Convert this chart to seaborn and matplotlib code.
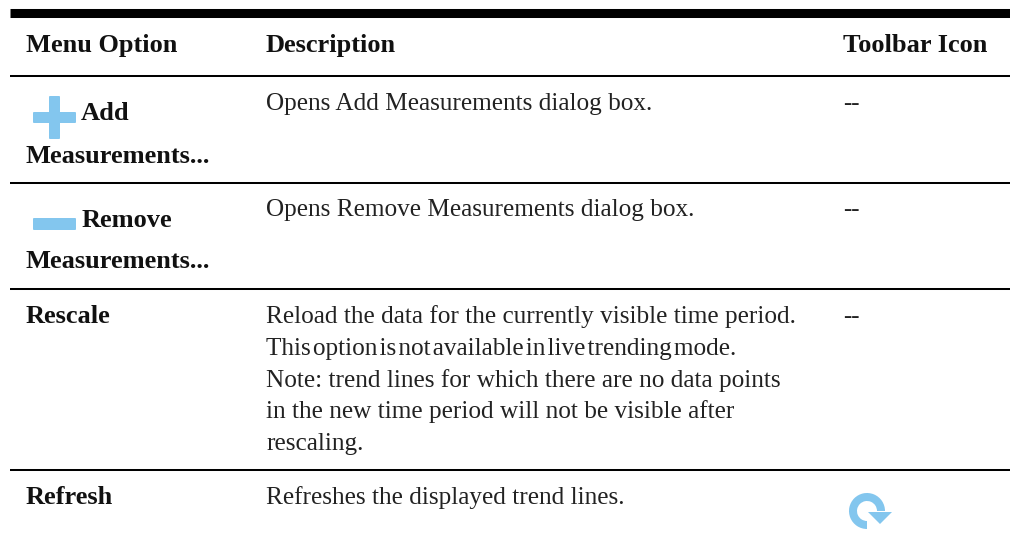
import matplotlib
matplotlib.use("Agg")
import matplotlib.pyplot as plt
from matplotlib.patches import FancyBboxPatch, Polygon, Wedge
import seaborn as sns

sns.set_theme(style="white")
plt.rcParams["font.family"] = ["Liberation Serif", "DejaVu Serif"]

HEADERS = ["Menu Option", "Description", "Toolbar Icon"]
HEADER_X = [26, 266, 843]
MENU_ITEMS = [("Add", 81, 120), ("Measurements...", 26, 163),
              ("Remove", 82, 227), ("Measurements...", 26, 268),
              ("Rescale", 26, 323), ("Refresh", 26, 504)]
DESCRIPTIONS = [("Opens Add Measurements dialog box.", 110),
                ("Opens Remove Measurements dialog box.", 216),
                ("Reload the data for the currently visible time period.", 323),
                ("This\u200aoption\u200ais\u200anot\u200aavailable\u200ain\u200alive\u200atrending\u200amode.", 355),
                ("Note: trend lines for which there are no data points", 387),
                ("in the new time period will not be visible after", 418),
                ("rescaling.", 450),
                ("Refreshes the displayed trend lines.", 504)]
DASH_ROWS = [110, 216, 323]
RULES = [76, 183, 289, 470]

INK = "#111111"
BODY_INK = "#222222"
ICON = "#83c6ee"
BODY_SIZE = 18.2
BOLD_SIZE = 19

fig, ax = plt.subplots(figsize=(10.1, 5.37), dpi=100)
fig.subplots_adjust(0, 0, 1, 1)
ax.set_xlim(0, 1010)
ax.set_ylim(537, 0)
ax.axis("off")
sns.despine(ax=ax, left=True, bottom=True)

# table rules
ax.hlines(12.5, 10, 1010, color="black", lw=6.5)
ax.hlines(RULES, 10, 1010, color="black", lw=1.45)

# text
for label, x in zip(HEADERS, HEADER_X):
    ax.text(x, 52, label, fontsize=BOLD_SIZE, fontweight="bold", color=INK, va="baseline")
for label, x, y in MENU_ITEMS:
    ax.text(x, y, label, fontsize=BOLD_SIZE, fontweight="bold", color=INK, va="baseline")
for label, y in DESCRIPTIONS:
    ax.text(266, y, label, fontsize=BODY_SIZE, color=BODY_INK, va="baseline")
for y in DASH_ROWS:
    ax.text(843, y, "--", fontsize=BODY_SIZE, color=BODY_INK, va="baseline")


def bar(x, y, w, h):
    ax.add_patch(FancyBboxPatch((x + 1, y + 1), w - 2, h - 2, boxstyle="round,pad=1",
                                fc=ICON, ec="none"))


# plus and minus icons
bar(33, 112, 43, 11)
bar(49, 96, 11, 43)
bar(33, 218, 43, 12)

# refresh icon
ax.add_patch(Wedge((867, 511), 18, 90, 360, width=8, fc=ICON, ec="none"))
ax.add_patch(Polygon([(868, 512), (892, 512), (880, 524)], closed=True, fc=ICON, ec="none"))

fig.savefig("out.png", dpi=100, facecolor="white")
